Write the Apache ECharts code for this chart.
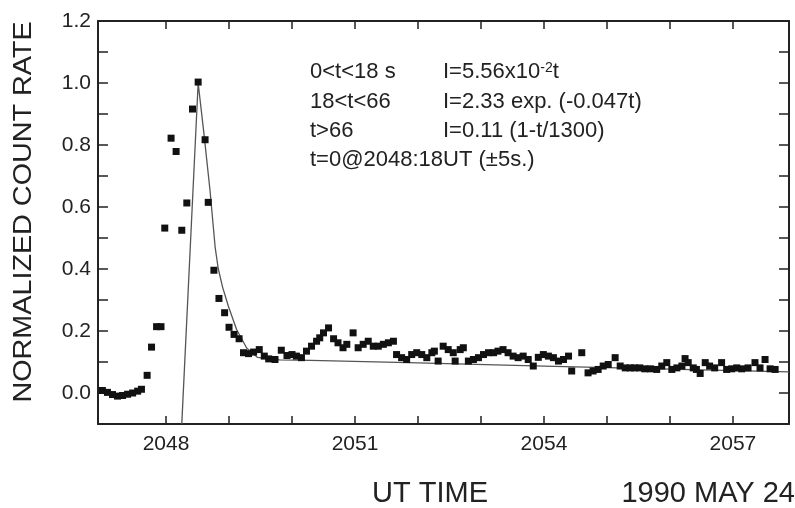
<!doctype html>
<html><head><meta charset="utf-8" />
<style>html,body,#chart{margin:0;padding:0;width:795px;height:508px;background:#fff}</style>
</head><body><div id="chart"></div>
<script src="https://cdn.jsdelivr.net/npm/echarts@6.0.0/dist/echarts.min.js"></script>
<script>
// UT time in minutes (2048 = 20:48) of each ~5 s bin
const times = [
  2046.99, 2047.07, 2047.15, 2047.23, 2047.31, 2047.39, 2047.47, 2047.55, 2047.61, 2047.70,
  2047.77, 2047.85, 2047.92, 2047.98, 2048.08, 2048.16, 2048.25, 2048.33, 2048.42, 2048.51,
  2048.62, 2048.67, 2048.76, 2048.84, 2048.93, 2049.00, 2049.08, 2049.16, 2049.23, 2049.31,
  2049.39, 2049.48, 2049.56, 2049.63, 2049.73, 2049.83, 2049.92, 2050.00, 2050.07, 2050.15,
  2050.23, 2050.31, 2050.39, 2050.44, 2050.50, 2050.58, 2050.66, 2050.73, 2050.81, 2050.87,
  2050.97, 2051.05, 2051.13, 2051.21, 2051.29, 2051.37, 2051.45, 2051.53, 2051.61, 2051.66,
  2051.74, 2051.82, 2051.90, 2051.98, 2052.06, 2052.14, 2052.22, 2052.26, 2052.32, 2052.40,
  2052.48, 2052.56, 2052.59, 2052.67, 2052.72, 2052.80, 2052.88, 2052.96, 2053.04, 2053.12,
  2053.20, 2053.27, 2053.35, 2053.43, 2053.51, 2053.59, 2053.67, 2053.75, 2053.83, 2053.91,
  2053.99, 2054.07, 2054.15, 2054.23, 2054.31, 2054.39, 2054.44, 2054.60, 2054.70, 2054.78,
  2054.86, 2054.94, 2055.02, 2055.13, 2055.21, 2055.29, 2055.37, 2055.44, 2055.52, 2055.60,
  2055.69, 2055.79, 2055.87, 2055.95, 2056.03, 2056.11, 2056.19, 2056.24, 2056.29, 2056.37,
  2056.42, 2056.48, 2056.56, 2056.63, 2056.71, 2056.82, 2056.90, 2056.98, 2057.06, 2057.14,
  2057.24, 2057.35, 2057.43, 2057.51, 2057.59, 2057.67
];
const rates = [
  0.008, 0.002, -0.005, -0.010, -0.008, -0.004, 0.000, 0.006, 0.012, 0.057,
  0.148, 0.214, 0.214, 0.532, 0.822, 0.779, 0.525, 0.613, 0.916, 1.003,
  0.817, 0.615, 0.396, 0.305, 0.259, 0.212, 0.189, 0.175, 0.130, 0.127,
  0.132, 0.140, 0.119, 0.110, 0.108, 0.138, 0.121, 0.124, 0.119, 0.114,
  0.135, 0.151, 0.167, 0.178, 0.194, 0.210, 0.175, 0.162, 0.146, 0.157,
  0.194, 0.146, 0.157, 0.167, 0.151, 0.151, 0.157, 0.162, 0.167, 0.124,
  0.114, 0.108, 0.124, 0.130, 0.124, 0.114, 0.130, 0.135, 0.103, 0.151,
  0.140, 0.130, 0.103, 0.140, 0.146, 0.103, 0.108, 0.114, 0.124, 0.130,
  0.130, 0.135, 0.140, 0.130, 0.119, 0.114, 0.119, 0.108, 0.087, 0.115,
  0.124, 0.119, 0.114, 0.103, 0.108, 0.119, 0.071, 0.130, 0.065, 0.071,
  0.076, 0.087, 0.092, 0.114, 0.087, 0.081, 0.081, 0.081, 0.081, 0.078,
  0.078, 0.076, 0.087, 0.098, 0.076, 0.081, 0.087, 0.111, 0.098, 0.081,
  0.076, 0.063, 0.098, 0.087, 0.081, 0.098, 0.076, 0.078, 0.081, 0.078,
  0.081, 0.098, 0.081, 0.108, 0.078, 0.076
];
// fitted profile (thin line)
const fitTimes = [2048.25, 2048.51, 2048.60, 2048.70, 2048.78, 2048.83, 2048.90, 2048.99, 2049.12, 2049.28, 2049.45, 2049.80, 2050.30, 2052.00, 2054.00, 2056.00, 2057.89];
const fitRates = [-0.10, 1.00, 0.84, 0.65, 0.47, 0.40, 0.34, 0.28, 0.205, 0.145, 0.115, 0.107, 0.105, 0.097, 0.087, 0.077, 0.068];

const xTickValues = [2048, 2049, 2050, 2051, 2052, 2053, 2054, 2055, 2056, 2057];
const xLabelValues = [2048, 2051, 2054, 2057];
const yTickValues = [0, 0.1, 0.2, 0.3, 0.4, 0.5, 0.6, 0.7, 0.8, 0.9, 1.0, 1.1];
const yLabelValues = [0, 0.2, 0.4, 0.6, 0.8, 1.0, 1.2];

const noteLeft = ['0<t<18 s', '18<t<66', 't>66', 't=0@2048:18UT (\u00b15s.)'];
const noteRight = ['I=5.56x10{sup|-2}t', 'I=2.33 exp. (-0.047t)', 'I=0.11 (1-t/1300)', ''];

(function () {
  const FONT = '"Liberation Sans", Arial, Helvetica, sans-serif';
  const INK = '#222';
  const xMin = 2046.92, xMax = 2057.89;
  const yMin = -0.1, yMax = 1.2;

  const chart = echarts.init(document.getElementById('chart'), null, { renderer: 'canvas' });

  function xAxisDef(pos) {
    return {
      type: 'value', position: pos, min: xMin, max: xMax,
      axisLine: { show: true, onZero: false, lineStyle: { color: INK, width: 2 } },
      axisTick: { show: true, inside: true, length: 8, customValues: xTickValues, lineStyle: { color: INK, width: 1.5 } },
      axisLabel: pos === 'bottom'
        ? { show: true, customValues: xLabelValues, formatter: v => String(v), fontSize: 21, color: INK, fontFamily: FONT, margin: 10 }
        : { show: false },
      splitLine: { show: false }
    };
  }
  function yAxisDef(pos) {
    return {
      type: 'value', position: pos, min: yMin, max: yMax,
      axisLine: { show: true, onZero: false, lineStyle: { color: INK, width: 2 } },
      axisTick: { show: true, inside: true, length: 10, customValues: yTickValues, lineStyle: { color: INK, width: 1.5 } },
      axisLabel: pos === 'left'
        ? { show: true, customValues: yLabelValues, formatter: v => v.toFixed(1), fontSize: 21, color: INK, fontFamily: FONT, margin: 7 }
        : { show: false },
      splitLine: { show: false }
    };
  }

  const graphics = [
    { type: 'text', x: 24, y: 212, rotation: Math.PI / 2, scaleX: 1.15,
      style: { text: 'NORMALIZED COUNT RATE', fill: INK, font: '25px ' + FONT, textAlign: 'center', textVerticalAlign: 'middle', align: 'center', verticalAlign: 'middle' } },
    { type: 'text', x: 372, y: 494,
      style: { text: 'UT TIME', fill: INK, font: '29px ' + FONT, textAlign: 'left', textVerticalAlign: 'middle', align: 'left', verticalAlign: 'middle' } },
    { type: 'text', x: 795, y: 494,
      style: { text: '1990 MAY 24', fill: INK, font: '29px ' + FONT, textAlign: 'right', textVerticalAlign: 'middle', align: 'right', verticalAlign: 'middle' } }
  ];
  const rowY = [72, 102, 131, 160];
  noteLeft.forEach((t, i) => {
    graphics.push({ type: 'text', x: 310, y: rowY[i],
      style: { text: t, fill: INK, font: '22px ' + FONT, textAlign: 'left', textVerticalAlign: 'middle', align: 'left', verticalAlign: 'middle' } });
    if (noteRight[i]) {
      graphics.push({ type: 'text', x: 443, y: rowY[i],
        style: { text: noteRight[i], fill: INK, font: '22px ' + FONT, textAlign: 'left', textVerticalAlign: 'middle', align: 'left', verticalAlign: 'middle',
          rich: { sup: { fontSize: 14, fontFamily: FONT, fill: INK, verticalAlign: 'top' } } } });
    }
  });

  chart.setOption({
    animation: false,
    backgroundColor: '#fff',
    grid: { left: 98, right: 6, top: 21, bottom: 84, containLabel: false },
    xAxis: [xAxisDef('bottom'), xAxisDef('top')],
    yAxis: [yAxisDef('left'), yAxisDef('right')],
    graphic: graphics,
    series: [
      { type: 'line', xAxisIndex: 0, yAxisIndex: 0, data: fitTimes.map((t, i) => [t, fitRates[i]]),
        symbol: 'none', lineStyle: { color: '#555', width: 1.3 }, silent: true, z: 2 },
      { type: 'scatter', xAxisIndex: 0, yAxisIndex: 0, data: times.map((t, i) => [t, rates[i]]),
        symbol: 'rect', symbolSize: 7, itemStyle: { color: '#111', opacity: 1 }, z: 3 }
    ]
  });
})();
</script></body></html>
